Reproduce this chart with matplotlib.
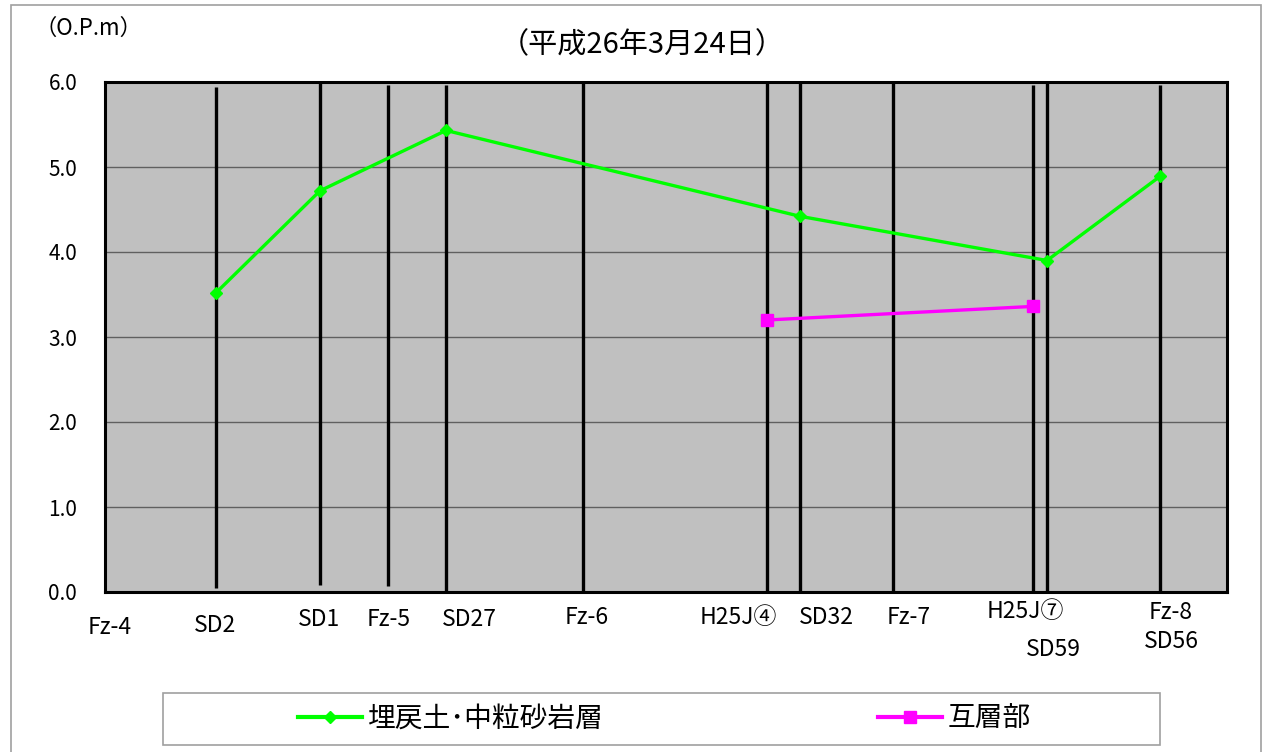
import matplotlib
matplotlib.use("Agg")
import matplotlib.pyplot as plt
from matplotlib.patches import Rectangle
from matplotlib.lines import Line2D

plt.rcParams['font.family'] = ['Noto Sans CJK JP', 'DejaVu Sans']

# borehole positions along the section (relative distance)
wells = ['Fz-4', 'SD2', 'SD1', 'Fz-5', 'SD27', 'Fz-6', 'H25J④', 'SD32',
         'Fz-7', 'H25J⑦', 'SD59', 'Fz-8\nSD56']
well_x = [0, 111, 215, 283, 341, 478, 662, 695, 788, 928, 942, 1055]
well_top = [6.0, 5.94, 6.0, 5.97, 5.97, 6.0, 6.0, 6.0, 6.0, 5.97, 6.0, 5.97]
well_bot = [0.0, 0.05, 0.08, 0.07, 0.0, 0.0, 0.0, 0.0, 0.0, 0.0, 0.0, 0.0]
label_x = [5, 110, 214, 284, 364, 482, 633, 721, 804, 920, 948, 1066]
label_drop = [36, 33, 28, 28, 28, 26, 25, 25, 25, 20, 58, 35]  # px below axis

# groundwater levels (O.P.m)
green_x = [111, 215, 341, 695, 942, 1055]
green_y = [3.52, 4.72, 5.43, 4.42, 3.90, 4.89]
pink_x = [662, 928]
pink_y = [3.20, 3.36]

x_max = 1122

fig = plt.figure(figsize=(12.71, 7.52), dpi=100)
fig.patches.append(Rectangle((11 / 1271, -0.01), 1250 / 1271, 1.003,
                             transform=fig.transFigure, fill=False,
                             edgecolor='#a0a0a0', lw=1.2))
ax = fig.add_axes([105 / 1271, 160 / 752, 1122 / 1271, 510 / 752])
ax.set_facecolor('#c0c0c0')
ax.set_xlim(0, x_max)
ax.set_ylim(0, 6)
ax.set_yticks([0, 1, 2, 3, 4, 5, 6])
ax.set_yticklabels([f'{v:.1f}' for v in range(7)], fontsize=15)
ax.tick_params(axis='y', length=0, pad=20)
ax.set_xticks([])
ax.grid(axis='y', color='#606060', lw=1)
ax.set_axisbelow(True)
for s in ax.spines.values():
    s.set_linewidth(2.2)
    s.set_color('black')

ax.vlines(well_x[1:], well_bot[1:], well_top[1:], colors='black', lw=2.4, zorder=2)

ax.plot(green_x, green_y, color='#00ff00', lw=2.4, marker='D', ms=6,
        zorder=3, label='埋戻土･中粒砂岩層')
ax.plot(pink_x, pink_y, color='#ff00ff', lw=2.4, marker='s', ms=8,
        zorder=3, label='互層部')

trans = ax.get_xaxis_transform()
for name, x, d in zip(wells, label_x, label_drop):
    ax.annotate(name, (x, 0), xycoords=trans, xytext=(0, -d),
                textcoords='offset pixels', ha='center', va='center',
                fontsize=16.5, linespacing=1.35)

fig.text(88 / 1271, 1 - 28 / 752, '（O.P.m）', ha='center', va='center', fontsize=16)
fig.text(642 / 1271, 1 - 45 / 752, '（平成26年3月24日）', ha='center', va='center', fontsize=21)

# legend box
fig.patches.append(Rectangle((163 / 1271, 7 / 752), 997 / 1271, 52 / 752,
                             transform=fig.transFigure, fill=False,
                             edgecolor='#a0a0a0', lw=1.2))
h_g = Line2D([], [], color='#00ff00', lw=3, marker='D', ms=6)
h_p = Line2D([], [], color='#ff00ff', lw=3, marker='s', ms=8)
fig.legend([h_g], ['埋戻土･中粒砂岩層'], loc='center left',
           bbox_to_anchor=(298 / 1271, 33 / 752), frameon=False, fontsize=20,
           handlelength=2.3, handletextpad=0.2, borderpad=0, borderaxespad=0)
fig.legend([h_p], ['互層部'], loc='center left',
           bbox_to_anchor=(878 / 1271, 33 / 752), frameon=False, fontsize=20,
           handlelength=2.3, handletextpad=0.2, borderpad=0, borderaxespad=0)

plt.savefig('out.png', dpi=100)
plt.close()
